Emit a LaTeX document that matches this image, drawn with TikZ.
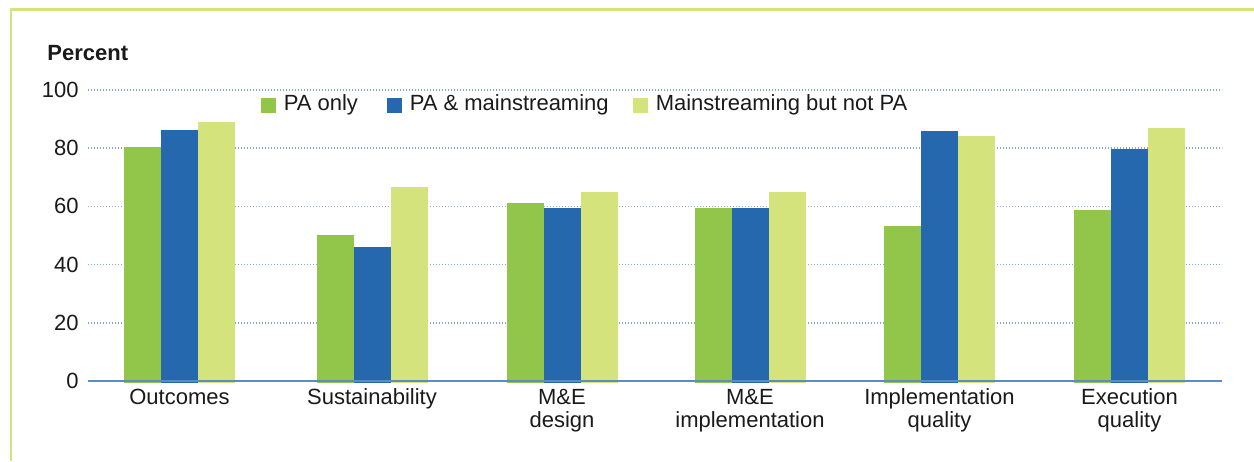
\documentclass[tikz,border=0pt]{standalone}
\usepackage{fontspec}
\setmainfont{Liberation Sans}
\usetikzlibrary{positioning}
\usepackage{xcolor}

\definecolor{paonly}{HTML}{92C64A}
\definecolor{pamain}{HTML}{2568AE}
\definecolor{mainonly}{HTML}{D5E37C}
\definecolor{gridblue}{HTML}{7FAADB}
\definecolor{axisblue}{HTML}{5A8CC8}
\definecolor{labeltext}{HTML}{1A1A1A}

\begin{document}
\begin{tikzpicture}[
    x=0.5pt, y=-0.5pt,
    frame/.style={draw=mainonly, line width=1.3pt},
    gridline/.style={draw=gridblue, line width=0.75pt, dash pattern=on 0.7pt off 0.8pt},
    axisline/.style={draw=axisblue, line width=1pt},
    ticklabel/.style={anchor=east, inner sep=0pt},
    catlabel/.style={anchor=north, inner sep=0pt, align=center},
    legsq/.style={minimum size=7.5pt, inner sep=0pt},
    legtext/.style={inner sep=0pt, right=3.5pt of #1},
    every node/.style={font=\fontsize{11}{11.5}\selectfont, text=labeltext}
]
    \useasboundingbox (0,0) rectangle (1254,461);

    % Frame
    \draw[frame] (1254,9.3) -- (11,9.3) -- (11,461);

    % Axis title
    \node[anchor=base west, inner sep=0pt, font=\fontsize{11}{11.5}\selectfont\bfseries] (ytitle) at (47,60) {Percent};

    % Grid and tick labels
    \foreach \t in {20,40,...,100}
        \draw[gridline] (88,{381-2.91*\t}) -- (1222,{381-2.91*\t});
    \foreach \t in {0,20,...,100}
        \node[ticklabel] (tick\t) at (79,{381-2.91*\t}) {\t};

    % Bars
    \foreach \cat/\cx/\a/\b/\c [count=\i] in {
        Outcomes/179.5/80.4/86.1/88.9,
        Sustainability/372/50.3/45.9/66.7,
        M\&E\\design/562/61.3/59.5/65,
        M\&E\\implementation/750/59.5/59.5/65,
        Implementation\\quality/939.5/53.2/85.8/84.1,
        Execution\\quality/1129.5/58.6/79.7/86.8} {
        \fill[paonly] (\cx-55.5,382.5) rectangle (\cx-18.5,{381-2.91*\a});
        \fill[pamain] (\cx-18.5,382.5) rectangle (\cx+18.5,{381-2.91*\b});
        \fill[mainonly] (\cx+18.5,382.5) rectangle (\cx+55.5,{381-2.91*\c});
        \node[catlabel] (cat\i) at (\cx,388.5) {\cat};
    }

    % Axis
    \draw[axisline] (88,381) -- (1222,381);

    % Legend
    \node[legsq, fill=paonly] (lgA) at (268.5,105) {};
    \node[legtext=lgA] (lgAtext) {PA only};
    \node[legsq, fill=pamain] (lgB) at (394.5,105) {};
    \node[legtext=lgB] (lgBtext) {PA \& mainstreaming};
    \node[legsq, fill=mainonly] (lgC) at (640.5,105) {};
    \node[legtext=lgC] (lgCtext) {Mainstreaming but not PA};

\end{tikzpicture}
\end{document}
